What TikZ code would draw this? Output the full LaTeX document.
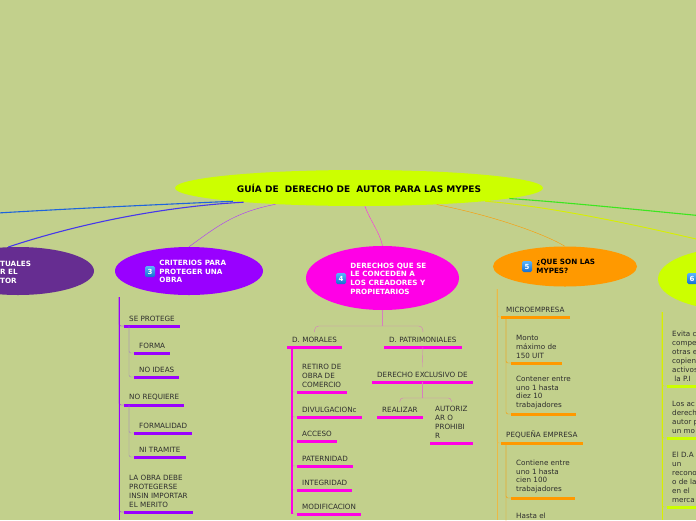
\documentclass[tikz,border=0pt]{standalone}
\usepackage{fontspec}
\setmainfont{DejaVu Sans}
\usetikzlibrary{positioning,shapes}
\definecolor{fondo}{RGB}{194,208,140}
\definecolor{lima}{RGB}{204,255,0}
\definecolor{violeta}{RGB}{153,0,255}
\definecolor{morado}{RGB}{102,45,145}
\definecolor{fucsia}{RGB}{255,0,230}
\definecolor{naranja}{RGB}{255,153,0}
\definecolor{azul}{RGB}{30,100,220}
\definecolor{indigo}{RGB}{70,55,235}
\definecolor{verde}{RGB}{60,230,30}
\definecolor{amarillo}{RGB}{215,240,0}
\definecolor{lila}{RGB}{165,135,190}
\definecolor{rosa}{RGB}{215,125,190}
\definecolor{ocre}{RGB}{235,185,70}
\definecolor{icoclaro}{RGB}{90,180,250}
\definecolor{icooscuro}{RGB}{20,110,210}
\tikzstyle{idea}=[ellipse, inner sep=0pt]
\tikzstyle{ideatxt}=[inner sep=0pt, align=left, font=\fontsize{7.2}{8.6}\selectfont\bfseries]
\tikzstyle{icono}=[top color=icoclaro, bottom color=icooscuro, rounded corners=1.5pt, minimum width=10pt, minimum height=11pt, inner sep=0pt, text=white, font=\fontsize{7}{7}\selectfont\bfseries]
\tikzstyle{linea}=[line width=1.1pt]
\tikzstyle{tema}=[anchor=south west, inner xsep=5pt, inner ysep=4.5pt, align=left, text=black!82, font=\fontsize{7.2}{8.9}\selectfont]
\tikzset{raya/.style={tema, append after command={\pgfextra{\let\temanodo\tikzlastnode}
    (\temanodo.south west) edge[draw=#1, line width=3pt] (\temanodo.south east)}}}

\begin{document}
\begin{tikzpicture}[x=1pt,y=-1pt]
\fill[fondo] (0,0) rectangle (696,520);
\useasboundingbox (0,0) rectangle (696,520);
\clip (0,0) rectangle (696,520);

% ideas principales
\node[idea, fill=lima, minimum width=368pt, minimum height=36pt, font=\fontsize{9}{10}\selectfont\bfseries] (guia) at (359,188) {GUÍA DE\ \ DERECHO DE\ \ AUTOR PARA LAS MYPES};

\node[idea, fill=morado, minimum width=152pt, minimum height=48pt] (mor) at (18,271) {};
\node[ideatxt, text=white, anchor=west] (mortxt) at (0,272) {TUALES\\R EL\\TOR};

\node[idea, fill=violeta, minimum width=148pt, minimum height=48pt] (crit) at (189,271) {};
\node[icono] (n3) at (150,271.5) {3};
\node[ideatxt, text=white, right=4pt of n3] (crittxt) {CRITERIOS PARA\\PROTEGER UNA\\OBRA};

\node[idea, fill=fucsia, minimum width=153pt, minimum height=64pt] (der) at (382.5,278) {};
\node[icono] (n4) at (341,278.5) {4};
\node[ideatxt, text=white, right=4pt of n4] (dertxt) {DERECHOS QUE SE\\LE CONCEDEN A\\LOS CREADORES Y\\PROPIETARIOS};

\node[idea, fill=naranja, minimum width=144pt, minimum height=40pt] (myp) at (565,266.5) {};
\node[icono] (n5) at (527,266.5) {5};
\node[ideatxt, right=4pt of n5] (myptxt) {¿QUE SON LAS\\MYPES?};

\node[idea, fill=lima, minimum width=150pt, minimum height=62pt] (seis) at (733,279) {};
\node[icono] (n6) at (692,278.5) {6};

\coordinate (uno) at (-50,216);
\coordinate (siete) at (820,226);

% ramas desde el centro
\draw[linea, azul] (guia.186) .. controls +(-90,4) and +(90,-6) .. (uno);
\draw[linea, indigo] (guia.187) .. controls +(-90,5) and +(60,-20) .. (mor.112);
\draw[violeta!80!white] (guia.191) .. controls +(-40,8) and +(30,-22) .. (crit.north);
\draw[fucsia!85!white] (guia.288) .. controls +(5,14) and +(-3,-14) .. (der.north);
\draw[naranja] (guia.348) .. controls +(60,12) and +(-20,-12) .. (myp.north);
\draw[amarillo, line width=0.9pt] (guia.354) .. controls +(80,6) and +(-50,-12) .. (seis.north);
\draw[linea, verde] (guia.356) .. controls +(100,7) and +(-100,-7) .. (siete);

% criterios
\node[raya=violeta] (seprot) at (124,326) {SE PROTEGE};
\node[raya=violeta] (forma) at (134,353) {FORMA};
\node[raya=violeta] (noideas) at (134,377) {NO IDEAS};
\node[raya=violeta] (noreq) at (124,405) {NO REQUIERE};
\node[raya=violeta] (formal) at (134,433) {FORMALIDAD};
\node[raya=violeta] (tramite) at (134,457) {NI TRAMITE};
\node[raya=violeta] (merito) at (124,512) {LA OBRA DEBE\\PROTEGERSE\\INSIN IMPORTAR\\EL MERITO};

\coordinate (critbase) at (119,297);
\coordinate (critfin) at (119,520);
\draw[violeta] (critbase) -- (critfin);
\foreach \n in {seprot,noreq,merito}
  \draw[violeta, rounded corners=2pt] (critbase) |- (\n.south west);
\foreach \n in {forma,noideas}
  \draw[lila, rounded corners=2pt] ([xshift=5pt]seprot.south west) |- (\n.south west);
\foreach \n in {formal,tramite}
  \draw[lila, rounded corners=2pt] ([xshift=5pt]noreq.south west) |- (\n.south west);

% derechos
\node[raya=fucsia] (morales) at (287,347) {D. MORALES};
\node[raya=fucsia] (patr) at (384,347) {D. PATRIMONIALES};
\node[raya=fucsia] (retiro) at (297,392) {RETIRO DE\\OBRA DE\\COMERCIO};
\node[raya=fucsia] (divul) at (297,417) {DIVULGACIONc};
\node[raya=fucsia] (acceso) at (297,441) {ACCESO};
\node[raya=fucsia] (pater) at (297,466) {PATERNIDAD};
\node[raya=fucsia] (integ) at (297,490) {INTEGRIDAD};
\node[raya=fucsia] (modif) at (297,514) {MODIFICACION};
\node[raya=fucsia] (exclus) at (372,382) {DERECHO EXCLUSIVO DE};
\node[raya=fucsia] (realizar) at (377,417) {REALIZAR};
\node[raya=fucsia] (autoriz) at (430,443) {AUTORIZ\\AR O\\PROHIBI\\R};

\coordinate (derfork) at (382.5,326);
\draw[rosa] (der.south) -- (derfork);
\draw[rosa, rounded corners=4pt] (morales.north) |- (derfork) -| (patr.north);
\coordinate (moraltop) at ([xshift=5pt]morales.south west);
\foreach \n in {retiro,divul,acceso,pater,integ,modif}
  \draw[rosa, rounded corners=2pt] (moraltop) |- (\n.south west);
\draw[fucsia, line width=1.5pt] (moraltop) -- (moraltop |- modif.south west);
\draw[rosa] (patr.south) -- (exclus.north);
\coordinate (exfork) at ([yshift=-16pt]exclus.south);
\draw[rosa] (exclus.south) -- (exfork);
\draw[rosa, rounded corners=3pt] (realizar.north) |- (exfork) -| (autoriz.north);

% mypes
\node[raya=naranja] (micro) at (501,317) {MICROEMPRESA};
\node[raya=naranja] (monto) at (511,363) {Monto\\máximo de\\150 UIT};
\node[raya=naranja] (contener) at (511,414) {Contener entre\\uno 1 hasta\\diez 10\\trabajadores};
\node[raya=naranja] (pequena) at (501,443) {PEQUEÑA EMPRESA};
\node[raya=naranja] (contiene) at (511,498) {Contiene entre\\uno 1 hasta\\cien 100\\trabajadores};
\node[raya=naranja] (hasta) at (511,523) {Hasta el};

\coordinate (mypbase) at (497,289);
\coordinate (mypfin) at (497,520);
\draw[ocre] (mypbase) -- (mypfin);
\foreach \n in {micro,pequena}
  \draw[ocre, rounded corners=2pt] (mypbase) |- (\n.south west);
\foreach \n in {monto,contener}
  \draw[naranja, rounded corners=2pt] ([xshift=5pt]micro.south west) |- (\n.south west);
\foreach \n in {contiene,hasta}
  \draw[naranja, rounded corners=2pt] ([xshift=5pt]pequena.south west) |- (\n.south west);

% sexta rama
\node[raya=lima] (evita) at (667,386) {Evita c\\compe\\otras e\\copien\\activos\\\ la P.I};
\node[raya=lima] (losac) at (667,438) {Los ac\\derech\\autor p\\un mo};
\node[raya=lima] (elda) at (667,507) {El D.A\\un\\recono\\o de la\\en el\\merca};

\coordinate (seisbase) at (662,312);
\coordinate (seisfin) at (662,520);
\draw[amarillo] (seisbase) -- (seisfin);
\foreach \n in {evita,losac,elda}
  \draw[amarillo, rounded corners=2pt] (seisbase) |- (\n.south west);
\end{tikzpicture}
\end{document}
